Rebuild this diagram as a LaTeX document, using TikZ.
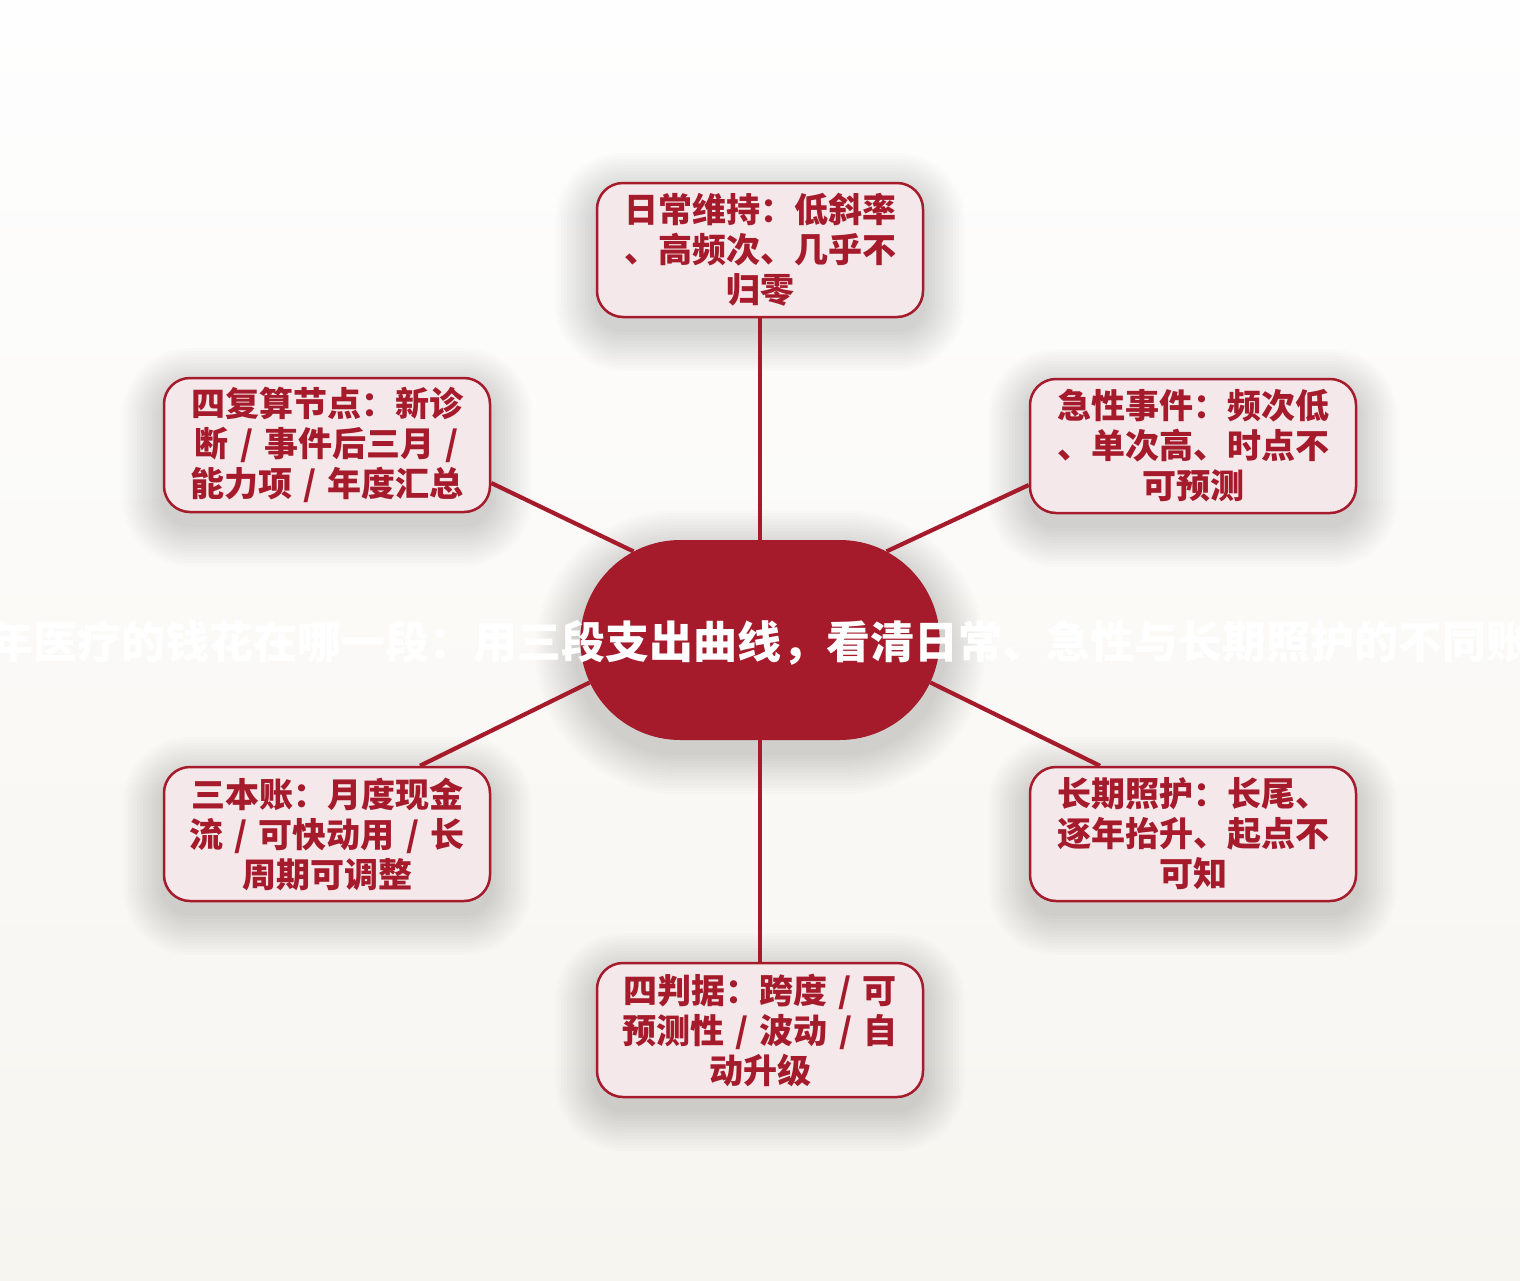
\documentclass[tikz,border=0pt]{standalone}
\usepackage{fontspec}
\newfontfamily\cjk{Noto Sans CJK SC}
\usepackage{xcolor}
\usetikzlibrary{positioning}
\usetikzlibrary{shapes.misc}
\definecolor{hubred}{HTML}{A51B2B}
\definecolor{leafpink}{HTML}{F5E8EB}
\definecolor{bgtop}{HTML}{FEFEFE}
\definecolor{bgbottom}{HTML}{F7F5F0}

% soft shadow: centre x, centre y, half width, half height, corner radius
\newcommand{\castshadow}[5]{%
  \foreach \k in {1,...,14}{
    \pgfmathsetmacro\grow{3*\k}
    \fill[black, opacity=0.012, rounded corners=#5+\grow]
      (#1-#3-\grow, #2+12-#4-\grow) rectangle (#1+#3+\grow, #2+12+#4+\grow);
  }}

\begin{document}
\begin{tikzpicture}[x=1pt,y=-1pt]
\shade[top color=bgtop, bottom color=bgbottom] (0,0) rectangle (1520,1280);
\useasboundingbox (0,0) rectangle (1520,1280);

% shadows
\castshadow{760}{640}{183}{100}{100}
\castshadow{760}{250}{163}{67}{26}
\castshadow{327}{445}{163}{67}{26}
\castshadow{1193}{446}{163}{67}{26}
\castshadow{327}{834}{163}{67}{26}
\castshadow{1193}{834}{163}{67}{26}
\castshadow{760}{1030}{163}{67}{26}

\node[rounded rectangle, fill=hubred, minimum width=366pt, minimum height=200pt] (hub) at (760,640) {};

\begin{scope}[every node/.style={draw=hubred, line width=2.5pt, fill=leafpink,
      rounded corners=26pt, minimum width=326pt, minimum height=134pt,
      text width=300pt, align=center, inner sep=0pt, text=hubred,
      font=\cjk\bfseries\fontsize{34}{40}\selectfont}]
   \node (daily) at (760,250) {日常维持：低斜率\\、高频次、几乎不\\归零};
   \node (review) at (327,445) {四复算节点：新诊\\断 / 事件后三月 /\\能力项 / 年度汇总};
   \node (acute) at (1193,446) {急性事件：频次低\\、单次高、时点不\\可预测};
   \node (ledger) at (327,834) {三本账：月度现金\\流 / 可快动用 / 长\\周期可调整};
   \node (care) at (1193,834) {长期照护：长尾、\\逐年抬升、起点不\\可知};
   \node (criteria) at (760,1030) {四判据：跨度 / 可\\预测性 / 波动 / 自\\动升级};
\end{scope}

\begin{scope}[every edge/.style={draw=hubred, line width=4.2pt}]
   \path (hub.north) edge (daily.south);
   \path (hub.145) edge ([yshift=-38pt]review.east);
   \path (hub.35) edge ([yshift=-39pt]acute.west);
   \path (hub.194) edge ([xshift=93pt]ledger.north);
   \path (hub.346) edge ([xshift=-93pt]care.north);
   \path (hub.south) edge (criteria.north);
\end{scope}

\node[text=white, inner sep=0pt, font=\cjk\bfseries\fontsize{44}{50}\selectfont] (title) at (760,643)
   {年医疗的钱花在哪一段：用三段支出曲线，看清日常、急性与长期照护的不同账};
\end{tikzpicture}
\end{document}
